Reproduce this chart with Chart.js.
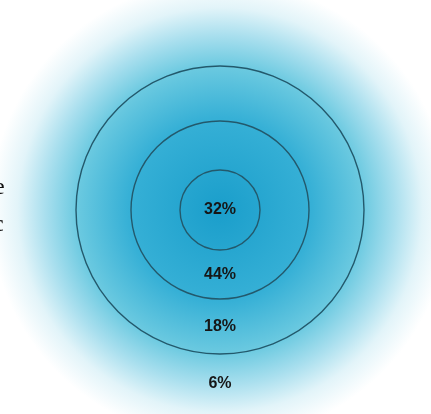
<!DOCTYPE html>
<html>
<head>
<meta charset="utf-8">
<script src="https://cdn.jsdelivr.net/npm/chart.js@4.4.1/dist/chart.umd.min.js"></script>
<style>
  html, body { margin: 0; padding: 0; background: #ffffff; }
  #wrap { width: 431px; height: 414px; position: relative; }
</style>
</head>
<body>
<div id="wrap"><canvas id="chart"></canvas></div>
<script>
// rings, from the centre outwards
const ringLabels = ['32%', '44%', '18%', '6%'];
const ringValues = [32, 44, 18, 6];

// ring thickness (doughnut weight), centre outwards
const ringWeights = [40, 49, 55, 60];
const lineColor = '#23596c';

// chart.js puts dataset 0 on the outside, so reverse
const datasets = ringValues.map((v, i) => ({
    label: ringLabels[i],
    data: [v],
    weight: ringWeights[i],
    backgroundColor: 'rgba(0,0,0,0)',
    borderWidth: 0,
    outline: i < ringValues.length - 1
})).reverse();

const glowPlugin = {
    id: 'glow',
    beforeDatasetsDraw(chart) {
        const arc = chart.getDatasetMeta(0).data[0];
        if (!arc) return;
        const { ctx } = chart;
        const x = arc.x, y = arc.y;
        const g = ctx.createRadialGradient(x, y, 0, x, y, 230);
        g.addColorStop(0.00, '#1a9ecb');
        g.addColorStop(0.40, '#36b0d6');
        g.addColorStop(0.62, '#6ac9e0');
        g.addColorStop(0.76, '#a9dfee');
        g.addColorStop(0.88, '#e2f4f9');
        g.addColorStop(1.00, '#ffffff');
        ctx.save();
        ctx.fillStyle = g;
        ctx.fillRect(0, 0, chart.width, chart.height);
        // cut-off words from the page beside the figure
        ctx.fillStyle = '#111111';
        ctx.font = '24px "Liberation Serif"';
        ctx.textBaseline = 'alphabetic';
        ctx.fillText('e', -6, 194);
        ctx.fillText('c', -7, 231);
        ctx.restore();
    }
};

// ring edges: one circle on the outer edge of each ring (no seam like arc borders)
const ringLabelPlugin = {
    id: 'ringLabels',
    afterDatasetsDraw(chart) {
        const { ctx } = chart;
        ctx.save();
        ctx.strokeStyle = lineColor;
        ctx.lineWidth = 1.4;
        chart.data.datasets.forEach((ds, i) => {
            if (!ds.outline) return;
            const arc = chart.getDatasetMeta(i).data[0];
            ctx.beginPath();
            ctx.arc(arc.x, arc.y, arc.outerRadius, 0, Math.PI * 2);
            ctx.stroke();
        });
        ctx.font = 'bold 16px "Liberation Sans", Arial, sans-serif';
        ctx.fillStyle = '#161616';
        ctx.textAlign = 'center';
        ctx.textBaseline = 'middle';
        chart.data.datasets.forEach((ds, i) => {
            const arc = chart.getDatasetMeta(i).data[0];
            const r = arc.innerRadius < 1 ? 0 : (arc.innerRadius + arc.outerRadius) / 2;
            ctx.fillText(ds.label, arc.x, arc.y + r);
        });
        ctx.restore();
    }
};

new Chart(document.getElementById('chart'), {
    type: 'doughnut',
    data: { labels: ['share'], datasets: datasets },
    options: {
        responsive: true,
        maintainAspectRatio: false,
        animation: false,
        cutout: 0,
        layout: { padding: { left: 9, top: 6, right: 0, bottom: 0 } },
        plugins: {
            legend: { display: false },
            tooltip: { enabled: false }
        }
    },
    plugins: [glowPlugin, ringLabelPlugin]
});
</script>
</body>
</html>
